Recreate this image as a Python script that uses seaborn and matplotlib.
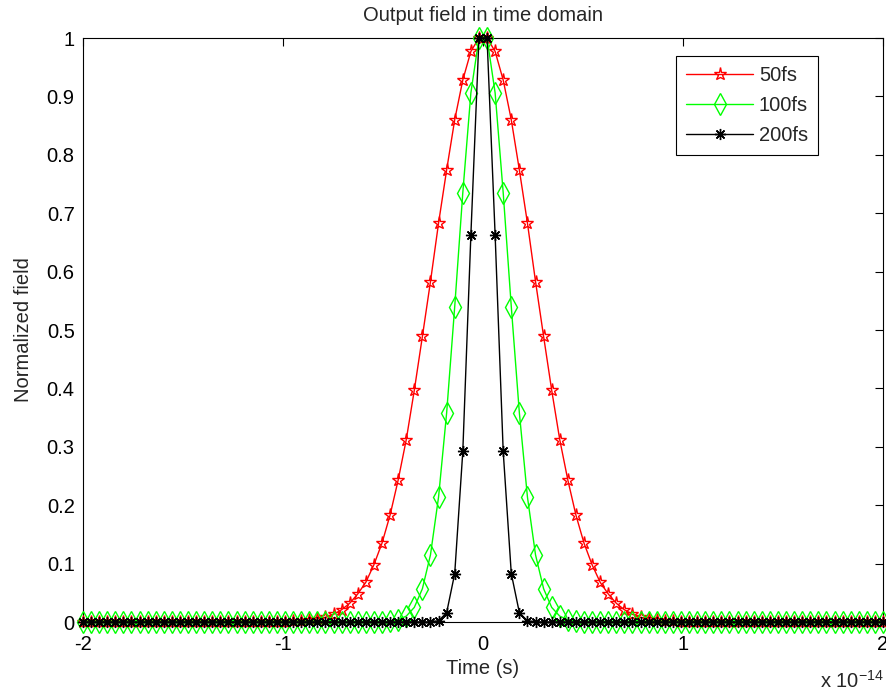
import numpy as np
import pandas as pd
import matplotlib
matplotlib.use("Agg")
import matplotlib.pyplot as plt
import seaborn as sns

# ---- data ----
t_start, t_stop, n_pts = -2e-14, 2e-14, 100
x_ticks = [-2, -1, 0, 1, 2]
y_ticks = [0, 0.1, 0.2, 0.3, 0.4, 0.5, 0.6, 0.7, 0.8, 0.9, 1]
series_labels = ["50fs", "100fs", "200fs"]

y_50fs = [0]*25 + [0.0005, 0.001, 0.002, 0.003, 0.005, 0.008, 0.013, 0.021, 0.032, 0.048,
                   0.068, 0.098, 0.135, 0.183, 0.243, 0.312, 0.397, 0.489, 0.583, 0.683,
                   0.774, 0.860, 0.928, 0.977, 1.0,
                   1.0, 0.977, 0.928, 0.860, 0.774, 0.683, 0.583, 0.489, 0.397, 0.312,
                   0.243, 0.183, 0.135, 0.098, 0.068, 0.048, 0.032, 0.021, 0.013, 0.008,
                   0.005, 0.003, 0.002, 0.001, 0.0005] + [0]*25
y_100fs = [0]*37 + [0.0003, 0.001, 0.004, 0.010, 0.025, 0.057, 0.115, 0.214, 0.358, 0.540,
                    0.735, 0.906, 1.0,
                    1.0, 0.906, 0.735, 0.540, 0.358, 0.214, 0.115, 0.057, 0.025, 0.010,
                    0.004, 0.001, 0.0003] + [0]*37
y_200fs = [0]*44 + [0.002, 0.016, 0.083, 0.292, 0.663, 1.0,
                    1.0, 0.663, 0.292, 0.083, 0.016, 0.002] + [0]*44

t = np.linspace(t_start, t_stop, n_pts)

df = pd.DataFrame({"t": np.tile(t, 3),
                   "field": y_50fs + y_100fs + y_200fs,
                   "pulse": np.repeat(series_labels, n_pts)})

sns.set_style("white")
plt.rcParams["font.family"] = ["Liberation Sans", "DejaVu Sans"]
FS = 14.5

fig = plt.figure(figsize=(8.86, 6.94), dpi=100)
ax = fig.add_axes([83/886, 1-622/694, 800/886, 584/694])

styles = {
    "50fs": dict(color=(1, 0, 0), marker="*", markersize=9.5, mfc="none", mec=(1, 0, 0), mew=1.0),
    "100fs": dict(color=(0, 1, 0), marker="d", markersize=11, mfc="none", mec=(0, 1, 0), mew=1.0),
    "200fs": dict(color="black", marker=(8, 2, 0), markersize=8, mfc="black", mec="black", mew=1.0),
}
for lab in series_labels:
    sub = df[df["pulse"] == lab]
    st = styles[lab]
    sns.lineplot(data=sub, x="t", y="field", ax=ax, color=st["color"], linewidth=1.0,
                 marker=st["marker"], markersize=st["markersize"], markerfacecolor=st["mfc"],
                 markeredgecolor=st["mec"], markeredgewidth=st["mew"], label=lab,
                 clip_on=False, zorder=3)

ax.set_xlim(t_start, t_stop)
ax.set_ylim(0, 1)
ax.set_xticks([v*1e-14 for v in x_ticks])
ax.set_xticklabels([str(v) for v in x_ticks])
ax.set_yticks(y_ticks)
ax.set_yticklabels([("%g" % v) for v in y_ticks])
ax.tick_params(direction="in", length=6, width=0.8, top=True, right=True,
               labelsize=FS, colors="black")
ax.tick_params(axis="y", pad=6)
ax.tick_params(axis="x", pad=9)
for s in ax.spines.values():
    s.set_visible(True)
    s.set_color("black")
    s.set_linewidth(0.8)

ax.set_title("Output field in time domain", fontsize=FS, pad=12)
ax.set_xlabel("Time (s)", fontsize=FS, labelpad=4)
ax.set_ylabel("Normalized field", fontsize=FS, labelpad=10)

fig.text(820/886, 1-681/694, r"x 10$^{\mathregular{-14}}$", fontsize=FS, ha="left", va="center")

leg = ax.legend(loc="upper right", bbox_to_anchor=((818-83)/800, 1-(56-38)/584),
                borderaxespad=0, frameon=True, fancybox=False, framealpha=1,
                edgecolor="black", fontsize=FS, handlelength=3.3, borderpad=0.5,
                labelspacing=0.55, handletextpad=0.3)
leg.get_frame().set_linewidth(0.8)

fig.savefig("out.png", dpi=100, facecolor="white")
